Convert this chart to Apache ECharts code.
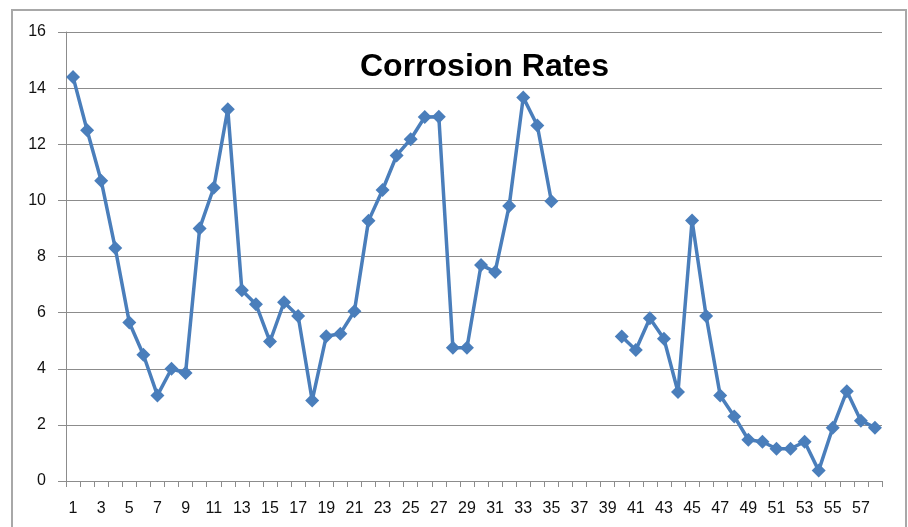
<!DOCTYPE html>
<html>
<head>
    <meta charset="UTF-8">
    <title>Corrosion Rates</title>
    <script src="https://cdn.jsdelivr.net/npm/echarts@6/dist/echarts.min.js"></script>
    <style>
        html, body { margin: 0; padding: 0; background: #fff; }
        #chart { width: 908px; height: 527px; }
    </style>
</head>
<body>
<div id="chart"></div>
<script>
    // sample numbers 1..58
    var categories = [];
    for (var i = 1; i <= 58; i++) categories.push(String(i));

    // corrosion rate per sample, null = no reading (36-39)
    var rates = [
        14.4, 12.5, 10.7, 8.3, 5.65, 4.5, 3.05, 4.0, 3.85, 9.0,
        10.45, 13.25, 6.8, 6.3, 4.97, 6.37, 5.88, 2.87, 5.16, 5.25,
        6.05, 9.27, 10.37, 11.6, 12.18, 12.97, 12.98, 4.75, 4.75, 7.7,
        7.45, 9.8, 13.67, 12.67, 9.97, null, null, null, null, 5.15,
        4.67, 5.8, 5.07, 3.17, 9.28, 5.88, 3.05, 2.3, 1.47, 1.4,
        1.15, 1.15, 1.4, 0.37, 1.9, 3.2, 2.15, 1.9
    ];

    var chart = echarts.init(document.getElementById('chart'));
    chart.setOption({
        animation: false,
        backgroundColor: '#fff',
        title: {
            text: 'Corrosion Rates',
            left: 355,
            top: 46,
            textStyle: {
                fontFamily: 'Liberation Sans',
                fontWeight: 'bold',
                fontSize: 32,
                color: '#000'
            }
        },
        graphic: [{
            type: 'rect',
            shape: { x: 12, y: 10, width: 894, height: 530 },
            style: { fill: 'none', stroke: '#a8a8a8', lineWidth: 2 },
            silent: true
        }],
        grid: { left: 66, right: 26, top: 32, bottom: 46 },
        xAxis: {
            type: 'category',
            data: categories,
            boundaryGap: true,
            axisLine: { lineStyle: { color: '#8c8c8c', width: 1 } },
            axisTick: { show: true, interval: 0, length: 6, lineStyle: { color: '#8c8c8c' } },
            axisLabel: {
                interval: 1,
                margin: 20,
                fontFamily: 'Liberation Sans',
                fontSize: 16,
                color: '#111'
            },
            splitLine: { show: false }
        },
        yAxis: {
            type: 'value',
            min: 0,
            max: 16,
            interval: 2,
            axisLine: { show: true, lineStyle: { color: '#8c8c8c', width: 1 } },
            axisTick: { show: true, length: 8, lineStyle: { color: '#8c8c8c' } },
            axisLabel: {
                margin: 20,
                fontFamily: 'Liberation Sans',
                fontSize: 16,
                color: '#111'
            },
            splitLine: { show: true, lineStyle: { color: '#8c8c8c', width: 1 } }
        },
        series: [{
            type: 'line',
            data: rates,
            connectNulls: false,
            showAllSymbol: true,
            symbol: 'diamond',
            symbolSize: 14,
            lineStyle: { color: '#4a7ebb', width: 3.5 },
            itemStyle: { color: '#4a7ebb' }
        }]
    });
</script>
</body>
</html>
